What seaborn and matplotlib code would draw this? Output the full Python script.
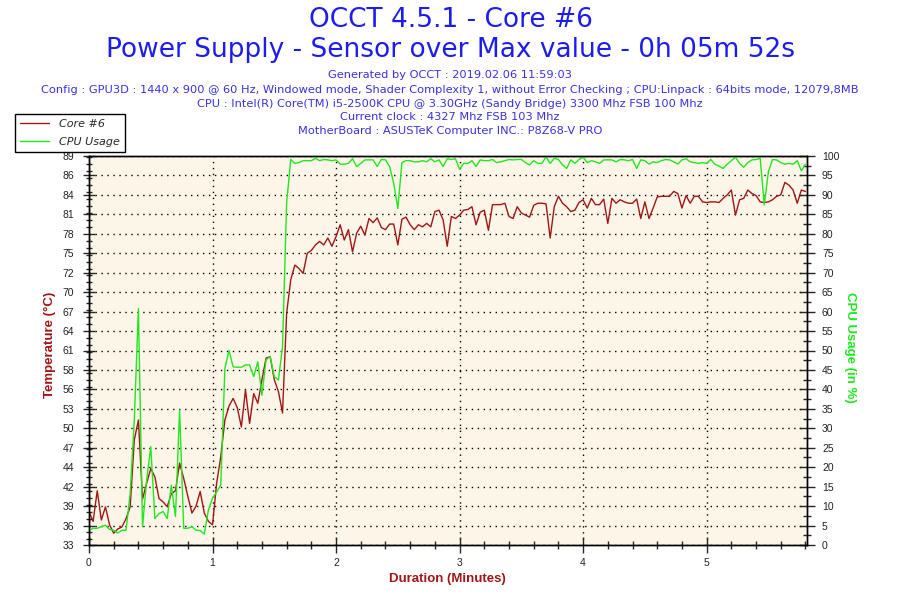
import numpy as np
import pandas as pd
import matplotlib
matplotlib.use("Agg")
import matplotlib.pyplot as plt
import seaborn as sns
from matplotlib.ticker import MultipleLocator
from matplotlib.lines import Line2D

# ---------------- data (one sample every 2 s) ----------------
sample_step_s = 2

core6_temp_c = [
    38.0, 36.6, 41.0, 36.8, 38.7, 36.1, 34.9, 35.5, 35.8, 37.0,
    38.7, 48.3, 51.2, 39.8, 42.1, 44.2, 43.0, 39.9, 39.4, 38.7,
    40.6, 41.0, 45.0, 42.8, 40.2, 37.8, 38.8, 40.9, 37.8, 36.6,
    36.1, 42.1, 45.9, 51.2, 53.2, 54.3, 53.0, 50.2, 55.5, 50.7,
    55.0, 53.6, 57.0, 60.1, 60.3, 57.0, 55.3, 52.2, 66.6, 71.4,
    73.5, 73.0, 72.3, 75.2, 75.6, 76.4, 76.9, 76.4, 77.4, 76.2,
    77.6, 79.3, 77.1, 78.6, 75.4, 78.1, 79.1, 77.8, 80.2, 79.6,
    80.3, 78.9, 78.6, 79.4, 79.4, 76.4, 80.1, 80.4, 79.3, 78.6,
    79.3, 79.0, 79.5, 79.0, 81.2, 81.4, 80.0, 76.2, 80.5, 80.2,
    80.7, 81.4, 81.5, 81.9, 79.3, 81.1, 81.4, 78.5, 82.2, 82.2,
    82.2, 82.4, 80.5, 80.2, 81.9, 81.0, 80.7, 80.4, 82.1, 82.4,
    82.4, 82.3, 77.4, 81.9, 83.4, 82.4, 81.9, 81.2, 81.4, 82.5,
    82.9, 81.7, 83.1, 82.2, 82.2, 83.0, 79.5, 83.1, 82.4, 82.9,
    82.6, 82.4, 82.4, 83.0, 80.2, 82.6, 80.2, 81.7, 83.3, 83.4,
    83.4, 83.4, 84.1, 83.8, 81.7, 83.5, 82.4, 83.4, 83.4, 82.6,
    82.5, 82.6, 82.6, 82.5, 83.1, 83.6, 84.3, 80.7, 82.9, 83.1,
    84.3, 83.8, 83.5, 82.6, 82.5, 82.6, 82.9, 83.4, 83.6, 85.4,
    85.0, 84.3, 82.4, 84.3, 84.1,
]

cpu_usage_pct = [
    3.8, 4.3, 4.3, 4.7, 5.1, 4.0, 3.8, 3.1, 3.8, 3.8,
    13.3, 32.1, 60.8, 4.7, 16.7, 25.3, 6.8, 8.1, 8.6, 6.8,
    15.4, 7.3, 34.7, 4.3, 4.3, 4.7, 3.8, 3.7, 2.8, 9.0,
    12.0, 13.6, 15.4, 45.4, 50.0, 45.8, 45.7, 45.7, 46.3, 46.3,
    43.3, 47.1, 38.5, 47.6, 48.4, 43.3, 42.4, 51.0, 88.0, 99.1,
    98.1, 98.3, 98.8, 98.8, 98.8, 99.4, 98.8, 99.1, 99.0, 98.8,
    99.0, 97.9, 97.9, 98.1, 99.3, 97.3, 98.1, 99.0, 99.0, 99.0,
    97.3, 99.1, 99.0, 97.3, 93.0, 86.5, 98.3, 98.8, 98.8, 98.5,
    98.5, 98.8, 98.5, 99.3, 98.5, 99.0, 97.3, 99.3, 99.1, 99.3,
    96.6, 98.1, 98.1, 98.8, 97.3, 99.0, 98.8, 98.8, 99.1, 98.3,
    98.5, 98.8, 99.1, 99.0, 99.1, 99.1, 98.3, 97.7, 98.8, 98.1,
    98.1, 99.8, 98.1, 99.4, 99.1, 97.7, 96.8, 99.0, 98.1, 99.1,
    99.7, 98.3, 98.8, 98.5, 98.1, 99.0, 99.0, 99.0, 98.5, 99.1,
    99.0, 98.8, 99.1, 96.8, 99.0, 98.8, 97.9, 98.5, 98.3, 98.8,
    99.1, 99.0, 98.5, 97.9, 99.0, 99.3, 98.5, 98.3, 98.1, 98.3,
    98.1, 99.1, 97.9, 97.4, 96.8, 97.9, 98.8, 99.7, 98.1, 97.1,
    98.3, 99.0, 99.1, 99.4, 87.4, 96.0, 99.1, 99.0, 98.3, 97.9,
    98.1, 97.9, 98.8, 96.2, 97.9,
]

duration_min = np.arange(len(core6_temp_c)) * sample_step_s / 60.0

temp_tick_labels = ["33", "36", "39", "42", "44", "47", "50", "53", "56", "58",
                    "61", "64", "67", "70", "72", "75", "78", "81", "84", "86", "89"]
temp_range = (33.2, 89.2)
cpu_ticks = [0, 5, 10, 15, 20, 25, 30, 35, 40, 45, 50,
             55, 60, 65, 70, 75, 80, 85, 90, 95, 100]
minute_ticks = [0, 1, 2, 3, 4, 5]
x_end_min = 5.81

title1 = "OCCT 4.5.1 - Core #6"
title2 = "Power Supply - Sensor over Max value - 0h 05m 52s"
info_lines = [
    "Generated by OCCT : 2019.02.06 11:59:03",
    "Config : GPU3D : 1440 x 900 @ 60 Hz, Windowed mode, Shader Complexity 1, without Error Checking ; CPU:Linpack : 64bits mode, 12079,8MB",
    "CPU : Intel(R) Core(TM) i5-2500K CPU @ 3.30GHz (Sandy Bridge) 3300 Mhz FSB 100 Mhz",
    "Current clock : 4327 Mhz FSB 103 Mhz",
    "MotherBoard : ASUSTeK Computer INC.: P8Z68-V PRO",
]

# ---------------- style ----------------
RED = "#a01515"
GREEN = "#1ee81e"
TITLE_BLUE = "#1c1cf0"
INFO_BLUE = "#3a30e0"
BG = "#fdf6e8"

sns.set_style("white")
plt.rcParams["font.family"] = ["DejaVu Sans"]

df = pd.DataFrame({"Duration": duration_min,
                   "Core #6": core6_temp_c,
                   "CPU Usage": cpu_usage_pct})

fig = plt.figure(figsize=(9, 6), dpi=100)
fig.patch.set_facecolor("white")
ax = fig.add_axes([89 / 900, 55 / 600, 717.7 / 900, 389 / 600])
ax.set_facecolor(BG)

sns.lineplot(data=df, x="Duration", y="Core #6", ax=ax, color=RED,
             linewidth=1.0, legend=False)
ax2 = ax.twinx()
sns.lineplot(data=df, x="Duration", y="CPU Usage", ax=ax2, color=GREEN,
             linewidth=1.0, legend=False)
ax2.patch.set_visible(False)

ax.set_xlim(0, x_end_min)
ax.set_ylim(*temp_range)
ax2.set_ylim(cpu_ticks[0], cpu_ticks[-1])

ax.set_yticks(np.linspace(temp_range[0], temp_range[1], len(temp_tick_labels)))
ax.set_yticklabels(temp_tick_labels)
ax.yaxis.set_minor_locator(MultipleLocator(1))
ax2.set_yticks(cpu_ticks)
ax2.set_yticklabels([str(v) for v in cpu_ticks])
ax2.yaxis.set_minor_locator(MultipleLocator(2.5))
ax.set_xticks(minute_ticks)
ax.set_xticklabels([str(v) for v in minute_ticks])
ax.xaxis.set_minor_locator(MultipleLocator(0.2))

ax.set_xlabel("")
ax.set_ylabel("")
ax2.set_ylabel("")

ax.grid(True, which="major", color="black", linestyle=(0, (1, 3.3)), linewidth=1.0)
ax.set_axisbelow(True)

for a in (ax, ax2):
    for sp in a.spines.values():
        sp.set_visible(True)
        sp.set_color("black")
        sp.set_linewidth(1.0)

ax.tick_params(axis="y", which="major", direction="inout", length=9, width=1,
               labelsize=7.5, labelcolor="#222222", pad=6, left=True, right=False)
ax.tick_params(axis="y", which="minor", direction="inout", length=5, width=1,
               left=True, right=False)
ax.tick_params(axis="x", which="major", direction="inout", length=12, width=1,
               labelsize=7.5, labelcolor="#222222", pad=3, bottom=True, top=False)
ax.tick_params(axis="x", which="minor", direction="inout", length=6, width=1,
               bottom=True, top=False)
ax2.tick_params(axis="y", which="major", direction="inout", length=12, width=1,
                labelsize=7.5, labelcolor="#222222", pad=5, right=True, left=False)
ax2.tick_params(axis="y", which="minor", direction="inout", length=6, width=1,
                right=True, left=False)
for lbl in ax.get_xticklabels() + ax.get_yticklabels() + ax2.get_yticklabels():
    lbl.set_fontfamily("Liberation Sans")

# ---------------- texts ----------------
fig.text(0.501, 1 - 20 / 600, title1, ha="center", va="center",
         fontsize=19, color=TITLE_BLUE)
fig.text(0.501, 1 - 50 / 600, title2, ha="center", va="center",
         fontsize=19, color=TITLE_BLUE)
info_y = [75, 90, 104, 117, 131]
for yy, line in zip(info_y, info_lines):
    fig.text(0.5, 1 - yy / 600, line, ha="center", va="center",
             fontsize=8.2, color=INFO_BLUE)

fig.text(50 / 900, 1 - 345 / 600, "Temperature (°C)", rotation=90,
         ha="center", va="center", fontsize=9.5, fontweight="bold",
         color=RED, family="Liberation Sans")
fig.text(850 / 900, 1 - 347 / 600, "CPU Usage (in %)", rotation=270,
         ha="center", va="center", fontsize=9.5, fontweight="bold",
         color=GREEN, family="Liberation Sans")
fig.text(447 / 900, 1 - 579 / 600, "Duration (Minutes)",
         ha="center", va="center", fontsize=9.5, fontweight="bold",
         color=RED, family="Liberation Sans")

# ---------------- legend ----------------
handles = [Line2D([], [], color=RED, linewidth=1.0),
           Line2D([], [], color=GREEN, linewidth=1.0)]
leg = fig.legend(handles, ["Core #6", "CPU Usage"], loc="upper left",
                 bbox_to_anchor=(15 / 900, 1 - 114 / 600), borderaxespad=0,
                 frameon=True, fancybox=False, edgecolor="black",
                 facecolor="white", framealpha=1, handlelength=2.6,
                 handletextpad=0.9, borderpad=0.45, labelspacing=0.75,
                 prop={"size": 8, "style": "italic"})
leg.get_frame().set_linewidth(1.0)

fig.savefig("out.png", dpi=100, facecolor="white")
